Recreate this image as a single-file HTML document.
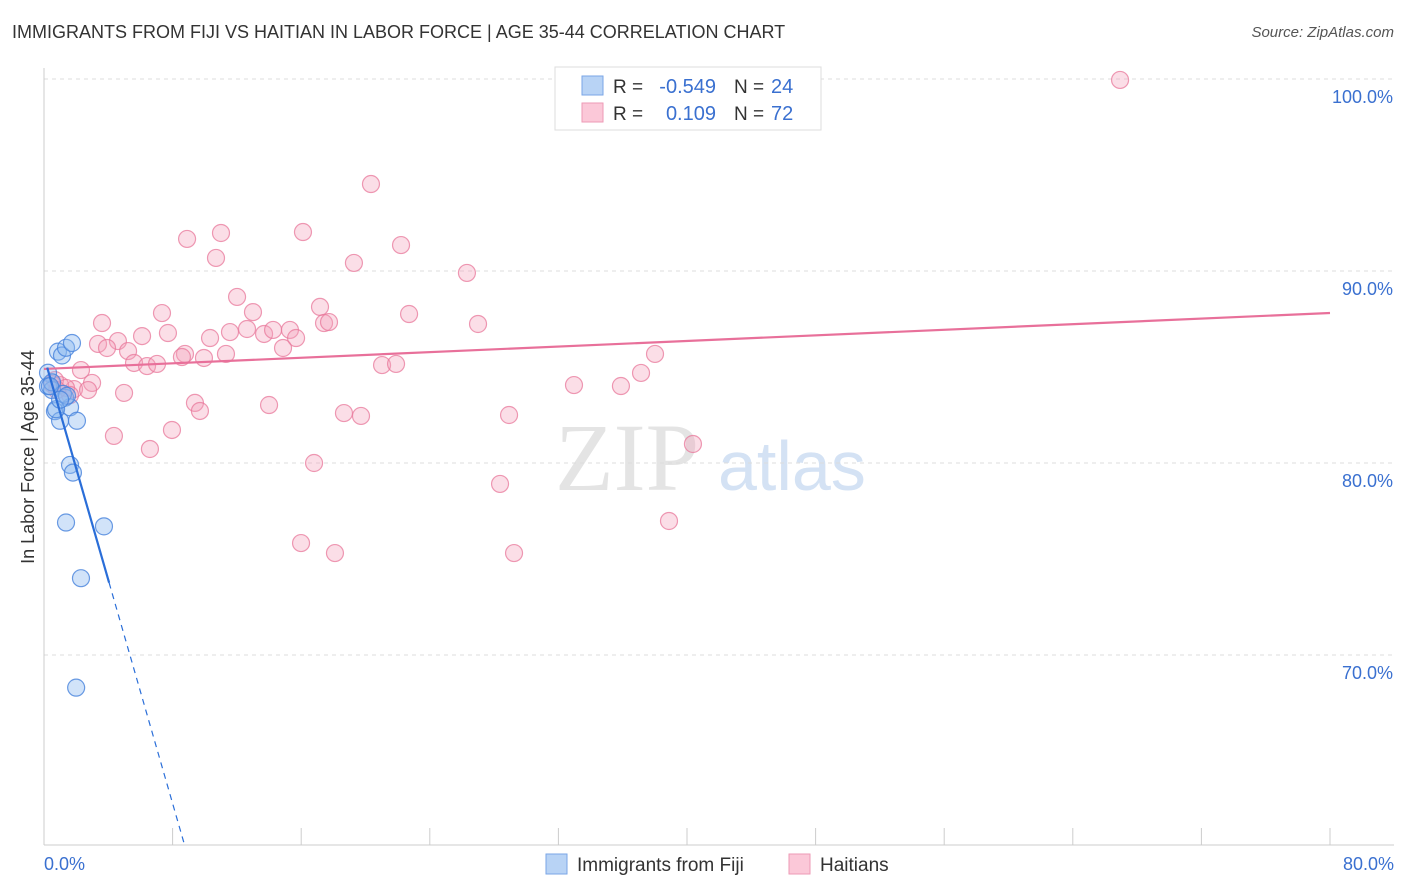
<!DOCTYPE html>
<html><head><meta charset="utf-8"><style>
body{margin:0;background:#fff;font-family:"Liberation Sans",sans-serif;}
#wrap{position:relative;width:1406px;height:892px;overflow:hidden;}
.t{position:absolute;white-space:nowrap;}
</style></head><body>
<div id="wrap">
<div class="t" style="left:12px;top:22px;font-size:18px;color:#333;">IMMIGRANTS FROM FIJI VS HAITIAN IN LABOR FORCE | AGE 35-44 CORRELATION CHART</div>
<div class="t" style="right:12px;top:24px;font-size:15px;color:#555;font-style:italic;">Source: ZipAtlas.com</div>
<svg id="svg" width="1406" height="892" style="position:absolute;left:0;top:0"></svg>
</div>
<script>
const yTicks=[100,90,80,70];
const yTickLabels=["100.0%","90.0%","80.0%","70.0%"];
const xTickLabels=["0.0%","80.0%"];
const fijiX=[0.25,0.25,0.5,0.68,1.0,0.87,1.12,1.37,1.74,1.31,1.62,2.05,1.62,1.8,1.37,3.73,2.3,2.0,0.5,0.75,1.18,1.43,0.37,1.0];
const fijiY=[84.7,84.0,83.8,82.7,82.2,85.8,85.6,86.0,86.25,83.4,82.9,82.2,79.9,79.5,76.9,76.7,74.0,68.3,84.2,82.8,83.6,83.5,84.0,83.3];
const haitiX=[66.94,20.34,8.90,11.01,16.11,22.21,10.70,19.28,26.31,12.01,7.34,13.00,17.17,3.61,17.42,17.73,22.71,27.00,6.10,7.71,4.60,3.36,3.92,5.23,10.33,11.57,12.63,13.69,14.25,15.30,15.68,14.87,11.32,8.77,8.58,9.95,5.60,6.41,7.03,21.03,21.90,38.01,37.14,32.97,35.89,2.30,2.99,4.98,1.87,1.00,0.68,2.74,9.39,9.70,14.00,18.66,19.72,28.93,4.35,7.96,6.59,16.80,28.37,40.37,15.99,18.10,29.24,38.88,1.37,0.50,1.62,0.81];
const haitiY=[99.95,94.53,91.67,91.98,92.03,91.35,90.68,90.42,89.90,88.65,87.81,87.86,88.13,87.29,87.29,87.34,87.76,87.24,86.61,86.77,86.35,86.20,85.99,85.83,86.51,86.82,86.98,86.72,86.93,86.93,86.51,85.99,85.68,85.68,85.52,85.47,85.21,85.05,85.16,85.10,85.16,85.68,84.69,84.06,84.01,84.84,84.17,83.65,83.85,84.06,84.32,83.80,83.13,82.71,83.02,82.60,82.45,82.50,81.41,81.72,80.73,80.00,78.91,80.99,75.83,75.31,75.31,76.98,83.91,84.11,83.54,83.80];
const fijiTrend=[85.55,-2.91];
const haitiTrend=[84.9,0.0364];

const X0=44,X1=1330,Y0=79,PX=(X1-X0)/80,PY=19.2;
const xs=v=>X0+v*PX, ys=v=>Y0+(100-v)*PY;
const svg=document.getElementById('svg');
const NS='http://www.w3.org/2000/svg';
function mk(tag,attrs,parent){const e=document.createElementNS(NS,tag);for(const k in attrs)e.setAttribute(k,attrs[k]);(parent||svg).appendChild(e);return e;}

// watermark
let w=mk('text',{x:555,y:490,'font-size':96,'font-family':'Liberation Serif,serif',fill:'#e4e4e4'});


w.textContent='ZIP';
w=mk('text',{x:718,y:490,'font-size':70,'font-family':'Liberation Sans,sans-serif',fill:'#d4e2f4'});


w.textContent='atlas';

yTicks.forEach((v,i)=>{
  const g=mk('line',{x1:X0,x2:1394,y1:ys(v),y2:ys(v),stroke:'#dcdcdc','stroke-dasharray':'4,4'});
  
  
  const t=mk('text',{x:1393,y:ys(v)+24,'text-anchor':'end','font-size':18,fill:'#3a70d0'});
  
  
  t.textContent=yTickLabels[i];
});
let a=mk('line',{x1:X0,x2:X0,y1:68,y2:845,stroke:'#ccc'});


a=mk('line',{x1:X0,x2:1394,y1:845,y2:845,stroke:'#ccc'});


for(let i=0;i<=10;i++){
  const tk=mk('line',{x1:xs(i*8),x2:xs(i*8),y1:828,y2:845,stroke:'#ccc'});
  
  
}
[[0,'start',44],[80,'end',1394]].forEach((d,i)=>{
  const t=mk('text',{x:d[2],y:870,'text-anchor':d[1],'font-size':18,fill:'#3a70d0'});
  
  
  t.textContent=xTickLabels[i];
});
let yt=mk('text',{x:34,y:457,transform:'rotate(-90 34 457)','text-anchor':'middle','font-size':18,fill:'#333'});


yt.textContent='In Labor Force | Age 35-44';

haitiX.forEach((x,i)=>{
  const c=mk('circle',{cx:xs(x),cy:ys(haitiY[i]),r:8.5,fill:'rgba(244,160,185,0.35)',stroke:'rgba(232,120,155,0.75)','stroke-width':1.2});
  
  
});
fijiX.forEach((x,i)=>{
  const c=mk('circle',{cx:xs(x),cy:ys(fijiY[i]),r:8.5,fill:'rgba(140,185,240,0.4)',stroke:'rgba(70,130,220,0.8)','stroke-width':1.2});
  
  
});
let l=mk('line',{x1:xs(0),y1:ys(haitiTrend[0]),x2:xs(80),y2:ys(haitiTrend[0]+80*haitiTrend[1]),stroke:'#e8709a','stroke-width':2.2});


const fy=x=>fijiTrend[0]+fijiTrend[1]*x;
l=mk('line',{x1:xs(0.2),y1:ys(fy(0.2)),x2:xs(4.05),y2:ys(fy(4.05)),stroke:'#2a6ed8','stroke-width':2.2});


const xe=(fijiTrend[0]-60.1)/(-fijiTrend[1]);
l=mk('line',{x1:xs(4.05),y1:ys(fy(4.05)),x2:xs(xe),y2:ys(fy(xe)),stroke:'#2a6ed8','stroke-width':1.2,'stroke-dasharray':'6,5'});



// legend box
const lg=mk('g',{});


mk('rect',{x:555,y:67,width:266,height:63,fill:'#fff',stroke:'#ddd'},lg);
mk('rect',{x:582,y:76,width:21,height:19,fill:'#b8d3f5',stroke:'#7aa6e6'},lg);
mk('rect',{x:582,y:103,width:21,height:19,fill:'#fbc8d8',stroke:'#ee9ab6'},lg);
[[93,'-0.549','24'],[120,'0.109','72']].forEach(r=>{
  let t=mk('text',{x:613,y:r[0],'font-size':19,fill:'#333'},lg);t.textContent='R =';
  t=mk('text',{x:716,y:r[0],'font-size':20,fill:'#3a70d0','text-anchor':'end'},lg);t.textContent=r[1];
  t=mk('text',{x:734,y:r[0],'font-size':19,fill:'#333'},lg);t.textContent='N =';
  t=mk('text',{x:771,y:r[0],'font-size':20,fill:'#3a70d0'},lg);t.textContent=r[2];
});
// bottom legend
const bl=mk('g',{});


mk('rect',{x:546,y:854,width:21,height:20,fill:'#b8d3f5',stroke:'#7aa6e6'},bl);
let t=mk('text',{x:577,y:871,'font-size':19,fill:'#333'},bl);t.textContent='Immigrants from Fiji';
mk('rect',{x:789,y:854,width:21,height:20,fill:'#fbc8d8',stroke:'#ee9ab6'},bl);
t=mk('text',{x:820,y:871,'font-size':19,fill:'#333'},bl);t.textContent='Haitians';
</script>
</body></html>
